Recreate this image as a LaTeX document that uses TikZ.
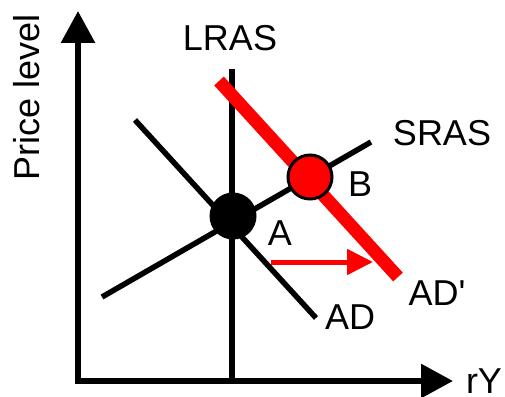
\documentclass[tikz,border=0pt]{standalone}
\usepackage{fontspec}
\setmainfont{Liberation Sans}[Ligatures=TeXOff]
\usetikzlibrary{arrows.meta}
\begin{document}
\begin{tikzpicture}[x=1pt,y=-1pt,
  lbl/.style={font=\fontsize{36}{40}\selectfont,inner sep=0pt},
  axis/.style={line width=6pt,-{Triangle[length=32pt,width=33pt]}},
  curve/.style={line width=5.5pt},
  shiftcurve/.style={line width=13pt,red},
  shiftarrow/.style={line width=5pt,red,-{Triangle[length=26pt,width=25pt]}}]
\useasboundingbox (0,0) rectangle (505,396);
% axes
\coordinate (O) at (78,381);
\coordinate (ytop) at (78,11);
\coordinate (xend) at (453,381);
\draw[axis] ([yshift=3pt]O) -- (ytop);
\draw[axis] ([xshift=-3pt]O) -- (xend);
\node[lbl,rotate=90] (ylab) at (27,97) {Price level};
\node[lbl] (xlab) at (484,381) {rY};
% LRAS
\coordinate (lrasTop) at (232,69);
\coordinate (lrasBot) at (232,381);
\draw[curve] (lrasTop) -- (lrasBot);
\node[lbl] (lraslab) at (230,38) {LRAS};
% AD
\coordinate (adTop) at (135,120);
\coordinate (adBot) at (316,318);
\draw[curve] (adTop) -- (adBot);
\node[lbl] (adlab) at (350,317) {AD};
% SRAS
\coordinate (srasBot) at (102,297);
\coordinate (srasTop) at (371,142);
\draw[curve] (srasBot) -- (srasTop);
\node[lbl] (sraslab) at (442,133) {SRAS};
% AD'
\coordinate (ad2Top) at (219,81);
\coordinate (ad2Bot) at (398,277);
\draw[shiftcurve] (ad2Top) -- (ad2Bot);
\node[lbl] (ad2lab) at (437,293) {AD'};
% points
\node[circle,fill=black,minimum size=47pt,inner sep=0pt] (A) at (233,216) {};
\node[circle,fill=red,draw=black,line width=3pt,minimum size=44pt,inner sep=0pt] (B) at (310,177) {};
\node[lbl] (Alab) at (280,233) {A};
\node[lbl] (Blab) at (360,184) {B};
% shift arrow
\coordinate (arrS) at (271,262);
\coordinate (arrE) at (373,262);
\draw[shiftarrow] (arrS) -- (arrE);
\end{tikzpicture}
\end{document}
